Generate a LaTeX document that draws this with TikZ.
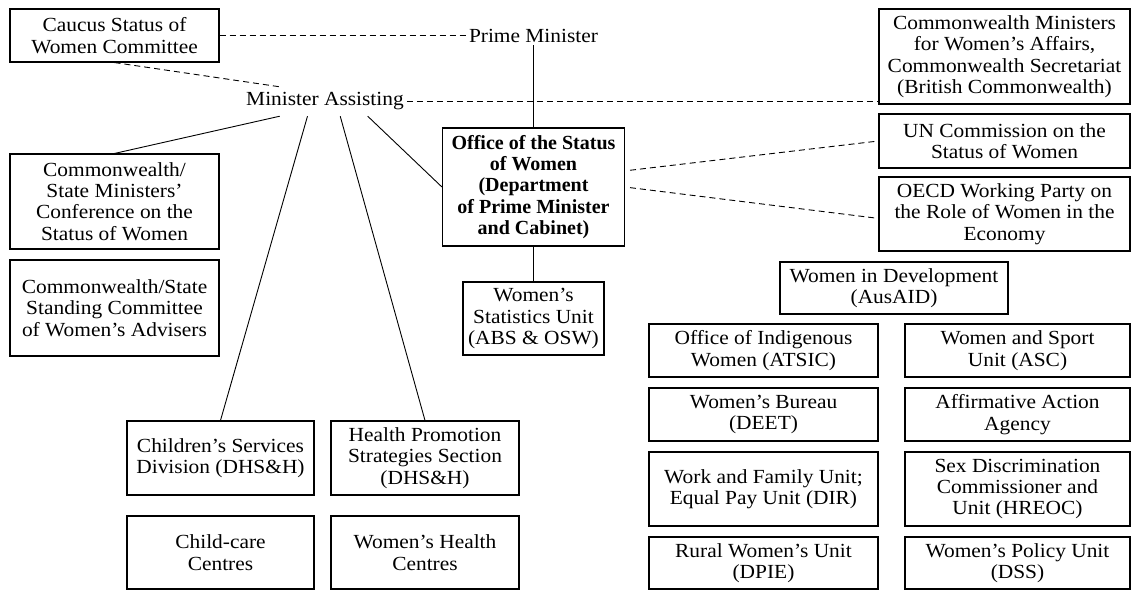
\documentclass[tikz,border=0pt]{standalone}
\usepackage{fontspec}
\setmainfont{Liberation Serif}[FakeStretch=1.07,BoldFeatures={FakeStretch=1.0}]
\tikzset{
    unit/.style={
        draw, line width=1.1pt, align=center, inner sep=2pt,
        font=\fontsize{20}{21.4}\selectfont
    },
    head/.style={
        inner xsep=3pt, inner ysep=3pt,
        font=\fontsize{20}{21.4}\selectfont
    },
    tie/.style={line width=0.9pt},
    liaise/.style={line width=0.9pt, dash pattern=on 6pt off 4pt}
}
\begin{document}
\begin{tikzpicture}[x=1pt,y=-1pt]
\useasboundingbox (0,0) rectangle (1132,590);
\node[head] (pm) at (533.5,35.5) {Prime Minister};
\node[head,minimum height=29pt] (ma) at (325,101.5) {Minister Assisting};
\node[unit,minimum width=209pt,minimum height=53pt] (caucus) at (114.5,35.5) {Caucus Status of\\Women Committee};
\node[unit,minimum width=209pt,minimum height=95pt] (conf) at (114.5,201.5) {Commonwealth/\\State Ministers'\\Conference on the\\Status of Women};
\node[unit,minimum width=209pt,minimum height=96pt] (standing) at (114.5,308) {Commonwealth/State\\Standing Committee\\of Women's Advisers};
\node[unit,minimum width=187pt,minimum height=74pt] (childserv) at (220.5,458) {Children's Services\\Division (DHS\&H)};
\node[unit,minimum width=188pt,minimum height=74pt] (healthprom) at (425,458) {Health Promotion\\Strategies Section\\(DHS\&H)};
\node[unit,minimum width=187pt,minimum height=73pt] (childcare) at (220.5,552.5) {Child-care\\Centres};
\node[unit,minimum width=188pt,minimum height=73pt] (healthcent) at (425,552.5) {Women's Health\\Centres};
\node[unit,minimum width=182pt,minimum height=118pt,font=\fontsize{20}{21.4}\selectfont\bfseries] (osw) at (533.5,187) {Office of the Status\\of Women\\(Department\\of Prime Minister\\and Cabinet)};
\node[unit,minimum width=141pt,minimum height=73pt] (wsu) at (533.5,318.5) {Women's\\Statistics Unit\\(ABS \& OSW)};
\node[unit,minimum width=251pt,minimum height=95pt] (cwmin) at (1004.5,56.5) {Commonwealth Ministers\\for Women's Affairs,\\Commonwealth Secretariat\\(British Commonwealth)};
\node[unit,minimum width=251pt,minimum height=54pt] (uncom) at (1004.5,141) {UN Commission on the\\Status of Women};
\node[unit,minimum width=251pt,minimum height=74pt] (oecd) at (1004.5,214) {OECD Working Party on\\the Role of Women in the\\Economy};
\node[unit,minimum width=228pt,minimum height=52pt] (wid) at (894,288) {Women in Development\\(AusAID)};
\node[unit,minimum width=229pt,minimum height=53pt] (indig) at (763.5,350.5) {Office of Indigenous\\Women (ATSIC)};
\node[unit,minimum width=225pt,minimum height=53pt] (sport) at (1017.5,350.5) {Women and Sport\\Unit (ASC)};
\node[unit,minimum width=229pt,minimum height=53pt] (bureau) at (763.5,414.5) {Women's Bureau\\(DEET)};
\node[unit,minimum width=225pt,minimum height=53pt] (affirm) at (1017.5,414.5) {Affirmative Action\\Agency};
\node[unit,minimum width=229pt,minimum height=74pt] (family) at (763.5,489) {Work and Family Unit;\\Equal Pay Unit (DIR)};
\node[unit,minimum width=225pt,minimum height=74pt] (sexdisc) at (1017.5,489) {Sex Discrimination\\Commissioner and\\Unit (HREOC)};
\node[unit,minimum width=229pt,minimum height=52pt] (rural) at (763.5,563) {Rural Women's Unit\\(DPIE)};
\node[unit,minimum width=225pt,minimum height=52pt] (policy) at (1017.5,563) {Women's Policy Unit\\(DSS)};
% solid lines
\draw[tie] (pm) -- (osw);
\draw[tie] (osw) -- (wsu);
\draw[tie] (ma.198) -- (conf.north);
\draw[tie] (ma.220) -- (childserv.north);
\draw[tie] (ma.316) -- (healthprom.north);
\draw[tie] (ma.341) -- (osw.west);
% dashed lines
\draw[liaise] (caucus.east) -- (pm.west);
\draw[liaise] (caucus.south) -- (ma.162);
\draw[liaise] (ma.east) -- (ma.east -| cwmin.west);
\draw[liaise,shorten <=5pt] (osw.10) -- (uncom.west);
\draw[liaise,shorten <=5pt] (osw.east) -- (oecd.182);
\end{tikzpicture}
\end{document}
